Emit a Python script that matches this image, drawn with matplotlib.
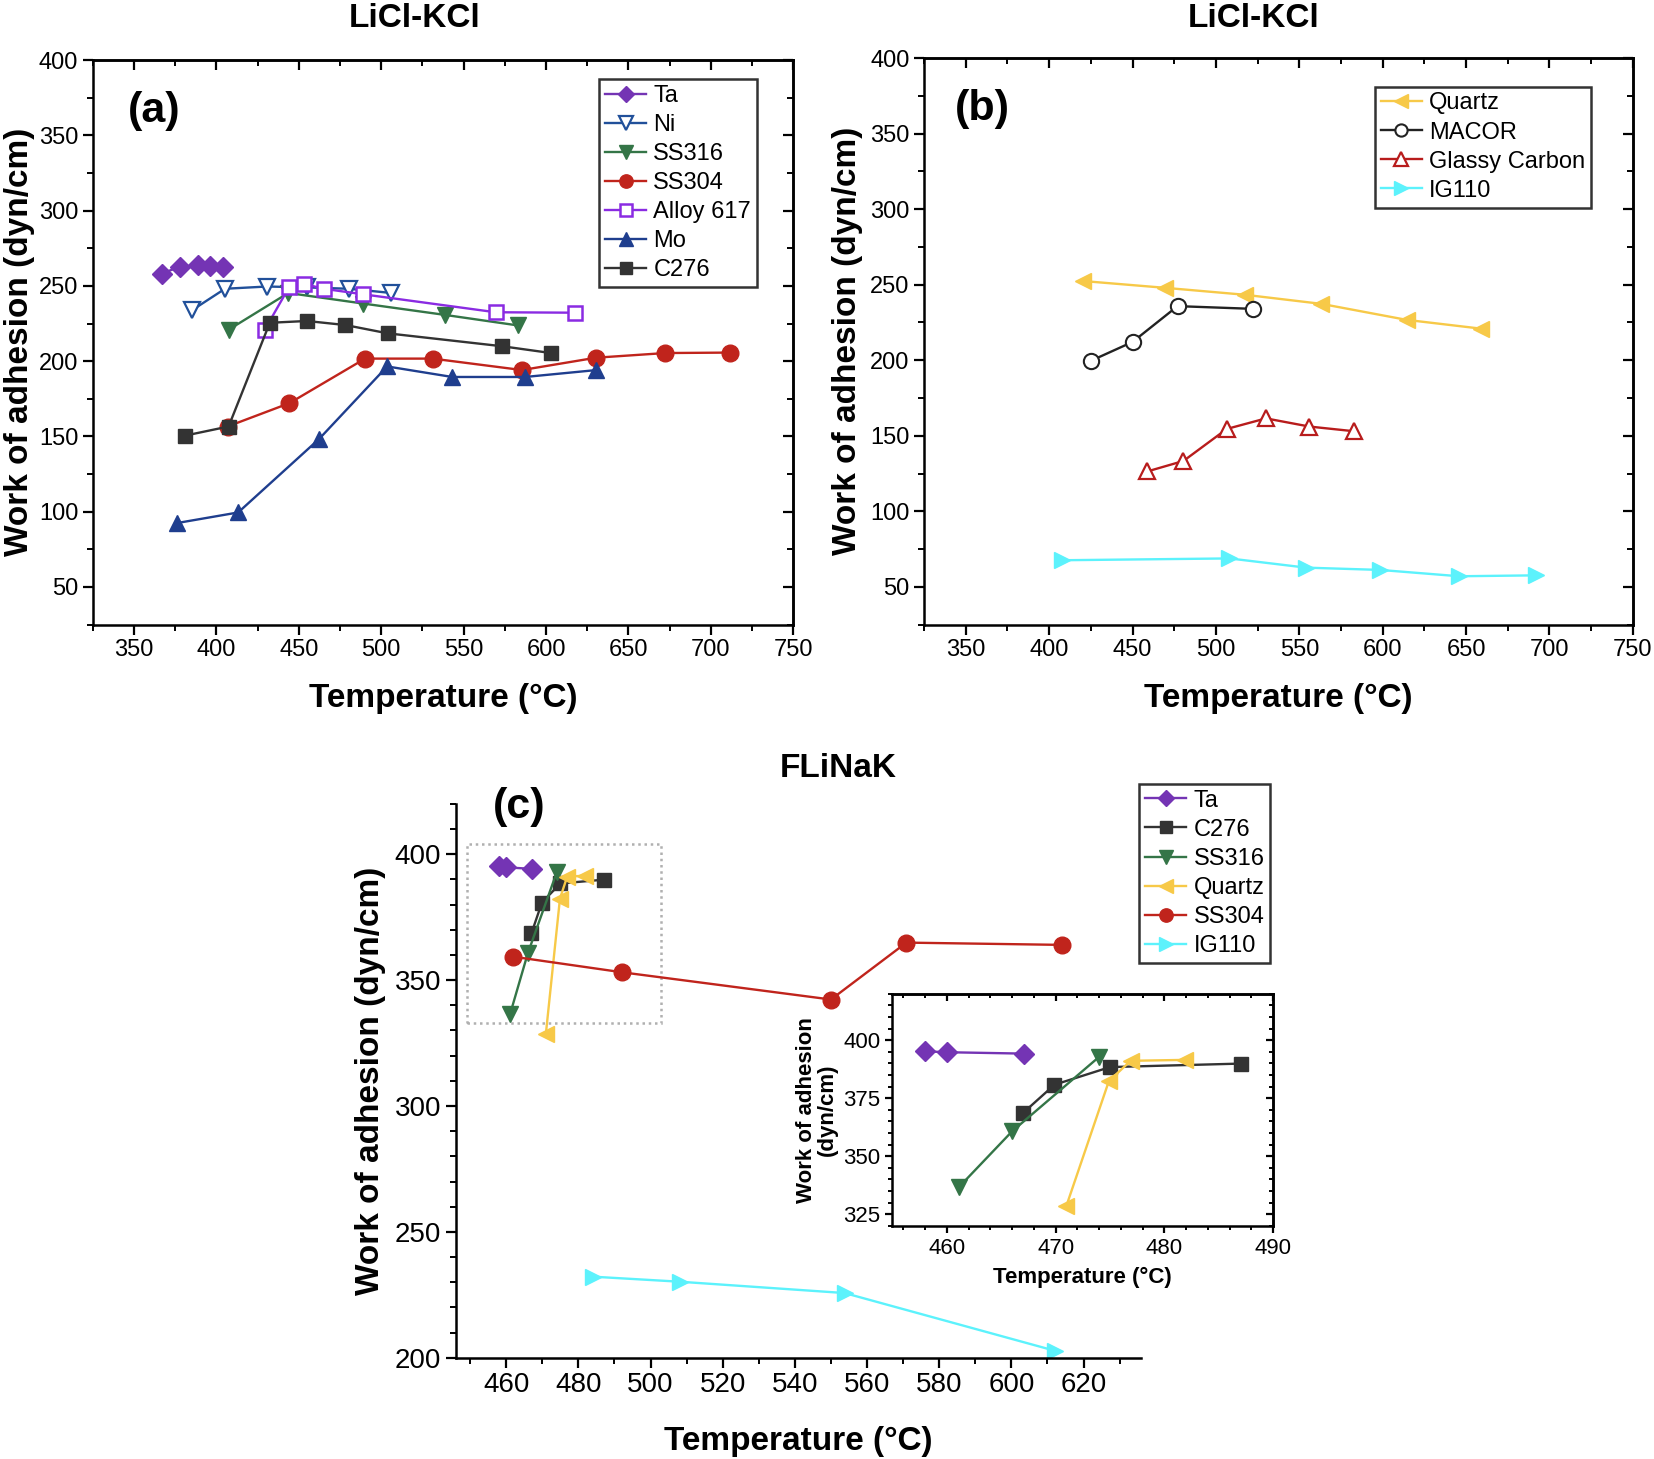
import matplotlib
matplotlib.use("Agg")
import matplotlib.pyplot as plt
from matplotlib.ticker import MultipleLocator
from matplotlib.patches import Rectangle

plt.rcParams['font.family'] = ['Liberation Sans', 'DejaVu Sans']

# ---------------- data: (a) LiCl-KCl, metals ----------------
ta_a_x = [366.7, 377.9, 389.1, 396.2, 404.2]
ta_a_y = [258.2, 262.7, 263.6, 263.3, 262.7]
ni_x = [385.0, 405.2, 430.8, 454.9, 480.5, 506.2]
ni_y = [233.7, 248.1, 249.6, 249.0, 248.1, 245.3]
ss316_a_x = [407.4, 443.6, 488.9, 538.9, 583.2]
ss316_a_y = [220.9, 245.3, 238.3, 230.7, 223.7]
ss304_a_x = [406.8, 444.3, 490.2, 531.2, 585.4, 630.3, 672.3, 711.5]
ss304_a_y = [156.6, 172.1, 201.7, 201.7, 194.1, 202.3, 205.4, 205.7]
a617_x = [429.2, 444.0, 452.9, 465.1, 489.2, 569.4, 617.5]
a617_y = [220.6, 249.0, 251.4, 248.1, 244.4, 232.5, 232.2]
mo_x = [376.3, 413.2, 462.3, 503.6, 543.1, 587.3, 630.6]
mo_y = [92.5, 99.5, 148.3, 196.5, 189.5, 189.5, 194.1]
c276_a_x = [380.8, 407.4, 432.4, 454.9, 478.3, 503.9, 573.5, 603.0]
c276_a_y = [150.5, 156.6, 225.5, 226.7, 224.0, 218.5, 209.9, 205.4]

# ---------------- data: (b) LiCl-KCl, non-metals ----------------
quartz_b_x = [420.5, 469.7, 517.6, 563.3, 614.4, 658.9]
quartz_b_y = [252.4, 247.9, 243.3, 237.3, 226.7, 220.9]
macor_x = [425.2, 450.0, 477.0, 522.1]
macor_y = [199.7, 212.1, 235.8, 234.0]
gc_x = [458.9, 480.5, 506.5, 530.0, 556.0, 582.7]
gc_y = [126.4, 133.3, 154.5, 161.5, 156.1, 153.0]
ig110_b_x = [407.8, 508.1, 554.1, 598.3, 645.9, 692.2]
ig110_b_y = [67.6, 68.8, 62.7, 61.2, 57.0, 57.6]

# ---------------- data: (c) FLiNaK ----------------
ta_c_x = [458.0, 460.0, 467.1]
ta_c_y = [395.2, 394.8, 394.2]
c276_c_x = [467.0, 469.9, 475.0, 487.0]
c276_c_y = [368.6, 380.8, 388.4, 389.9]
ss316_c_x = [461.1, 466.0, 474.0]
ss316_c_y = [336.6, 360.7, 392.8]
quartz_c_x = [471.0, 474.9, 476.9, 481.9]
quartz_c_y = [328.7, 382.4, 391.1, 391.5]
ss304_c_x = [462.0, 492.2, 550.0, 570.9, 614.0]
ss304_c_y = [359.3, 353.1, 342.3, 364.9, 364.0]
ig110_c_x = [484.1, 508.1, 553.8, 612.0]
ig110_c_y = [232.2, 230.2, 225.7, 202.8]

# colours
C_TA = '#7434b4'
C_NI = '#21509a'
C_SS316 = '#347547'
C_SS304 = '#c0241c'
C_A617 = '#8a2be2'
C_MO = '#1f3e8e'
C_C276 = '#333333'
C_QZ = '#f7c948'
C_MACOR = '#222222'
C_GC = '#b81c1c'
C_IG = '#5cf2fc'

MS = 11
LW = 1.7


def style_box(ax, tick_fs, major_len=7, minor_len=4):
    for s in ax.spines.values():
        s.set_linewidth(1.8)
    ax.tick_params(axis='both', which='major', length=major_len, width=1.6,
                   labelsize=tick_fs, direction='out')
    ax.tick_params(axis='both', which='minor', length=minor_len, width=1.4,
                   direction='out')
    # top / right ticks point inward
    sec_x = ax.secondary_xaxis('top')
    sec_x.set_xticks(ax.get_xticks())
    sec_x.tick_params(direction='in', length=major_len, width=1.6,
                      labeltop=False)
    sec_x.tick_params(which='minor', direction='in', length=minor_len, width=1.4)
    sec_x.xaxis.set_minor_locator(ax.xaxis.get_minor_locator())
    sec_y = ax.secondary_yaxis('right')
    sec_y.set_yticks(ax.get_yticks())
    sec_y.tick_params(direction='in', length=major_len, width=1.6,
                      labelright=False)
    sec_y.tick_params(which='minor', direction='in', length=minor_len, width=1.4)
    sec_y.yaxis.set_minor_locator(ax.yaxis.get_minor_locator())
    for s in (sec_x.spines.values()):
        s.set_linewidth(1.8)
    for s in (sec_y.spines.values()):
        s.set_linewidth(1.8)


def legend_box(ax, **kw):
    leg = ax.legend(frameon=True, fancybox=False, edgecolor='black',
                    fontsize=17, handlelength=1.75, handletextpad=0.3,
                    borderpad=0.25, labelspacing=0.3, borderaxespad=0.2,
                    markerscale=0.8, **kw)
    leg.get_frame().set_linewidth(1.8)
    return leg


fig = plt.figure(figsize=(16.54, 14.59), dpi=100)

# ================= (a) =================
ax_a = fig.add_axes([0.0561, 0.5719, 0.4235, 0.3869])
ax_a.plot(ta_a_x, ta_a_y, '-D', color=C_TA, ms=MS - 1, lw=LW, label='Ta')
ax_a.plot(ni_x, ni_y, '-v', color=C_NI, mfc='white', mec=C_NI, mew=1.6,
          ms=MS + 1, lw=LW, label='Ni')
ax_a.plot(ss316_a_x, ss316_a_y, '-v', color=C_SS316, ms=MS + 1, lw=LW,
          label='SS316')
ax_a.plot(ss304_a_x, ss304_a_y, '-o', color=C_SS304, ms=MS + 1, lw=LW,
          label='SS304')
ax_a.plot(a617_x, a617_y, '-s', color=C_A617, mfc='white', mec=C_A617,
          mew=1.8, ms=MS - 1, lw=LW, label='Alloy 617')
ax_a.plot(mo_x, mo_y, '-^', color=C_MO, ms=MS + 1, lw=LW, label='Mo')
ax_a.plot(c276_a_x, c276_a_y, '-s', color=C_C276, ms=MS - 1, lw=LW,
          label='C276')
ax_a.set_xlim(325, 750)
ax_a.set_ylim(25, 400)
ax_a.xaxis.set_minor_locator(MultipleLocator(25))
ax_a.yaxis.set_minor_locator(MultipleLocator(25))
ax_a.set_xticks(range(350, 751, 50))
ax_a.set_yticks(range(50, 401, 50))
style_box(ax_a, 17)
ax_a.set_xlabel('Temperature (°C)', fontsize=24, fontweight='bold', labelpad=16)
ax_a.set_ylabel('Work of adhesion (dyn/cm)', fontsize=24, fontweight='bold',
                labelpad=3)
legend_box(ax_a, loc='upper right', bbox_to_anchor=(0.955, 0.975))

# ================= (b) =================
ax_b = fig.add_axes([0.5587, 0.5719, 0.4285, 0.3883])
ax_b.plot(quartz_b_x, quartz_b_y, '-<', color=C_QZ, ms=MS + 1, lw=LW,
          label='Quartz')
ax_b.plot(macor_x, macor_y, '-o', color=C_MACOR, mfc='white', mec=C_MACOR,
          mew=1.5, ms=MS, lw=LW, label='MACOR')
ax_b.plot(gc_x, gc_y, '-^', color=C_GC, mfc='white', mec=C_GC, mew=1.6,
          ms=MS + 1, lw=LW, label='Glassy Carbon')
ax_b.plot(ig110_b_x, ig110_b_y, '->', color=C_IG, ms=MS + 1, lw=LW,
          label='IG110')
ax_b.set_xlim(325, 750)
ax_b.set_ylim(25, 400)
ax_b.xaxis.set_minor_locator(MultipleLocator(25))
ax_b.yaxis.set_minor_locator(MultipleLocator(25))
ax_b.set_xticks(range(350, 751, 50))
ax_b.set_yticks(range(50, 401, 50))
style_box(ax_b, 17)
ax_b.set_xlabel('Temperature (°C)', fontsize=24, fontweight='bold', labelpad=16)
ax_b.set_ylabel('Work of adhesion (dyn/cm)', fontsize=24, fontweight='bold',
                labelpad=5)
legend_box(ax_b, loc='upper right', bbox_to_anchor=(0.948, 0.958))

# ================= (c) =================
ax_c = fig.add_axes([0.2755, 0.0694, 0.4145, 0.3796])
series_c = [
    (ta_c_x, ta_c_y, '-D', C_TA, 'Ta'),
    (c276_c_x, c276_c_y, '-s', C_C276, 'C276'),
    (ss316_c_x, ss316_c_y, '-v', C_SS316, 'SS316'),
    (quartz_c_x, quartz_c_y, '-<', C_QZ, 'Quartz'),
    (ss304_c_x, ss304_c_y, '-o', C_SS304, 'SS304'),
    (ig110_c_x, ig110_c_y, '->', C_IG, 'IG110'),
]
for xs, ys, fmt, col, lab in series_c:
    ms = MS - 1 if fmt in ('-s', '-D') else MS + 1
    ax_c.plot(xs, ys, fmt, color=col, ms=ms, lw=LW, label=lab)
ax_c.set_xlim(446, 636)
ax_c.set_ylim(200, 420)
ax_c.set_xticks(range(460, 621, 20))
ax_c.set_yticks(range(200, 401, 50))
ax_c.xaxis.set_minor_locator(MultipleLocator(10))
ax_c.yaxis.set_minor_locator(MultipleLocator(10))
for side in ('top', 'right'):
    ax_c.spines[side].set_visible(False)
for side in ('left', 'bottom'):
    ax_c.spines[side].set_linewidth(1.8)
ax_c.tick_params(which='major', length=7, width=1.6, labelsize=20)
ax_c.tick_params(which='minor', length=4, width=1.4)
ax_c.set_xlabel('Temperature (°C)', fontsize=24, fontweight='bold', labelpad=20)
ax_c.set_ylabel('Work of adhesion (dyn/cm)', fontsize=24, fontweight='bold',
                labelpad=6)
ax_c.add_patch(Rectangle((449, 333), 54, 71, fill=False, ls=(0, (1, 1.5)),
                         lw=1.8, edgecolor='#b0b0b0'))
legend_box(ax_c, loc='upper left', bbox_to_anchor=(0.99, 1.045))

# inset
ax_i = fig.add_axes([0.5395, 0.1598, 0.2303, 0.1591])
for xs, ys, fmt, col, lab in series_c[:4]:
    ms = MS - 1 if fmt in ('-s', '-D') else MS + 1
    ax_i.plot(xs, ys, fmt, color=col, ms=ms, lw=LW)
ax_i.set_xlim(455, 490)
ax_i.set_ylim(320, 420)
ax_i.set_xticks(range(460, 491, 10))
ax_i.set_yticks(range(325, 401, 25))
ax_i.xaxis.set_minor_locator(MultipleLocator(2))
ax_i.yaxis.set_minor_locator(MultipleLocator(5))
style_box(ax_i, 16, major_len=5, minor_len=3)
ax_i.set_xlabel('Temperature (°C)', fontsize=16, fontweight='bold', labelpad=6)
ax_i.set_ylabel('Work of adhesion\n(dyn/cm)', fontsize=16, fontweight='bold',
                labelpad=4, linespacing=1.0)

# titles and panel letters
fig.text(0.2506, 0.987, 'LiCl-KCl', fontsize=24, fontweight='bold',
         ha='center', va='center')
fig.text(0.7577, 0.987, 'LiCl-KCl', fontsize=24, fontweight='bold',
         ha='center', va='center')
fig.text(0.507, 0.4736, 'FLiNaK', fontsize=24, fontweight='bold',
         ha='center', va='center')
fig.text(0.0931, 0.924, '(a)', fontsize=31, fontweight='bold',
         ha='center', va='center')
fig.text(0.594, 0.9255, '(b)', fontsize=31, fontweight='bold',
         ha='center', va='center')
fig.text(0.3138, 0.447, '(c)', fontsize=31, fontweight='bold',
         ha='center', va='center')

fig.savefig('out.png', dpi=100)
